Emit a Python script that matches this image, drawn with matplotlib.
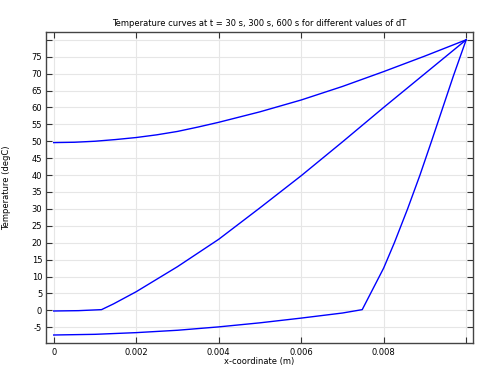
#!/usr/bin/env python
# -*- coding: utf-8 -*-

import numpy as np
import matplotlib
matplotlib.use('Agg')
import matplotlib.pyplot as plt

###############################################################################
# Data
###############################################################################
x600 = [0, 0.0005, 0.001, 0.0015, 0.002, 0.0025, 0.003, 0.0035, 0.004, 0.005,
        0.006, 0.007, 0.008, 0.009, 0.01]
T600 = [49.6, 49.7, 50.0, 50.5, 51.1, 51.9, 52.9, 54.2, 55.6, 58.7,
        62.2, 66.2, 70.6, 75.2, 80.0]

x300 = [0, 0.0006, 0.00116, 0.00145, 0.002, 0.003, 0.004, 0.005,
        0.006, 0.007, 0.008, 0.009, 0.01]
T300 = [-0.2, -0.1, 0.2, 1.9, 5.5, 12.9, 21.0, 30.3,
        39.8, 49.8, 60.0, 70.0, 80.0]

x30 = [0, 0.001, 0.002, 0.003, 0.004, 0.005, 0.006, 0.007, 0.00748, 0.008,
       0.00826, 0.00858, 0.00888, 0.00916, 0.00969, 0.01]
T30 = [-7.3, -7.1, -6.6, -5.9, -4.9, -3.7, -2.3, -0.8, 0.2, 12.5,
       20.0, 30.0, 40.0, 50.0, 69.3, 80.0]

xTicks = [0, 0.002, 0.004, 0.006, 0.008, 0.01]
xLabels = ['0', '0.002', '0.004', '0.006', '0.008', '']
yTicks = list(range(-5, 85, 5))
yLabels = [str(v) for v in range(-5, 80, 5)] + ['']

TITLE = 'Temperature curves at t = 30 s, 300 s, 600 s for different values of dT'
(XLAB, YLAB) = ('x-coordinate (m)', 'Temperature (degC)')
(W, H, DPI, FS) = (479, 366, 100, 6.0)
###############################################################################
# Plot
###############################################################################
plt.rcParams['font.family'] = ['DejaVu Sans']
fig = plt.figure(figsize=(W/DPI, H/DPI), dpi=DPI)
ax = fig.add_axes([0.0954, 0.0628, 0.8914, 0.8497])
for (xs, ts) in ((x600, T600), (x300, T300), (x30, T30)):
    ax.plot(xs, ts, color='#0000ff', lw=1.0)
ax.set_xlim(-0.000194, 0.010158)
ax.set_ylim(-9.67, 82.3)
ax.set_xticks(xTicks)
ax.set_xticklabels(xLabels)
ax.set_yticks(yTicks)
ax.set_yticklabels(yLabels)
ax.grid(True, color='#e6e6e6', lw=0.8)
ax.set_axisbelow(True)
ax.tick_params(
    direction='in', length=4, width=0.8, labelsize=FS,
    top=True, right=True, color='#333333'
)
ax.tick_params(axis='x', pad=3.5)
ax.tick_params(axis='y', pad=2.5)
for sp in ax.spines.values():
    sp.set_color('#444444')
    sp.set_linewidth(1.0)
ax.set_title(TITLE, fontsize=FS, pad=4)
ax.set_xlabel(XLAB, fontsize=FS, labelpad=0)
ax.set_ylabel(YLAB, fontsize=FS, labelpad=15)
fig.savefig('out.png', dpi=DPI)
plt.close('all')
